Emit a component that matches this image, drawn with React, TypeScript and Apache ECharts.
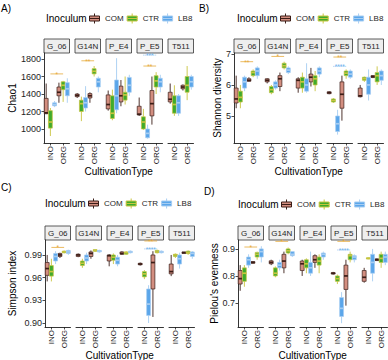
import React, { useEffect, useRef } from 'react';
import * as echarts from 'echarts';

const facets = ['G_06', 'G14N', 'P_E4', 'P_E5', 'T511'];
const cultivation = ['INO', 'ORG'];
const inocula = ['COM', 'CTR', 'LB8'];

// [min, q1, median, q3, max] for each facet: [INO, ORG]
const chao1COM = [
  [[1170, 1175, 1185, 1350, 1520], [1300, 1380, 1420, 1480, 1530]],
  [[1355, 1370, 1385, 1400, 1410], [1300, 1355, 1380, 1405, 1420]],
  [[1210, 1230, 1280, 1390, 1440], [1260, 1310, 1380, 1490, 1560]],
  [[1150, 1160, 1170, 1260, 1360], [1050, 1150, 1290, 1440, 1600]],
  [[1290, 1310, 1340, 1420, 1520], [1440, 1460, 1480, 1500, 1510]],
];
const chao1CTR = [
  [[920, 1010, 1080, 1210, 1240], [1310, 1450, 1500, 1540, 1550]],
  [[1090, 1200, 1290, 1330, 1370], [1600, 1630, 1660, 1690, 1720]],
  [[1100, 1120, 1180, 1380, 1450], [1280, 1330, 1390, 1420, 1600]],
  [[990, 1000, 1080, 1140, 1230], [1400, 1480, 1550, 1610, 1650]],
  [[1150, 1180, 1280, 1380, 1500], [1330, 1420, 1500, 1600, 1720]],
];
const chao1LB8 = [
  [[1250, 1265, 1280, 1300, 1320], [1300, 1380, 1460, 1530, 1580]],
  [[1200, 1240, 1300, 1360, 1490], [1420, 1480, 1540, 1580, 1600]],
  [[1180, 1220, 1380, 1560, 1810], [1380, 1420, 1500, 1590, 1620]],
  [[890, 900, 950, 1000, 1050], [1420, 1480, 1540, 1580, 1620]],
  [[1150, 1180, 1300, 1380, 1400], [1450, 1480, 1540, 1600, 1620]],
];
// [facet index, y, label, inoculum]
const chao1Sig = [[0, 1630, '*', 'CTR'], [1, 1780, '**', 'CTR'], [3, 1720, '**', 'CTR'], [3, 1845, '***', 'LB8']];
const chao1Ticks = [1000, 1200, 1400, 1600, 1800];

const shannonCOM = [
  [[5.25, 5.42, 5.55, 5.9, 6.3], [6.1, 6.12, 6.15, 6.2, 6.25]],
  [[6.05, 6.1, 6.15, 6.2, 6.22], [5.8, 5.95, 6.2, 6.3, 6.4]],
  [[5.75, 5.9, 6.15, 6.2, 6.25], [5.95, 6.1, 6.25, 6.35, 6.55]],
  [[5.7, 5.72, 5.75, 5.78, 5.8], [4.85, 5.25, 5.7, 6.1, 6.3]],
  [[5.6, 5.62, 5.65, 5.9, 6.0], [6.22, 6.24, 6.27, 6.3, 6.32]],
];
const shannonCTR = [
  [[5.25, 5.45, 5.6, 5.8, 6.0], [6.25, 6.3, 6.4, 6.45, 6.5]],
  [[5.7, 5.75, 5.85, 5.95, 6.0], [6.5, 6.55, 6.62, 6.7, 6.75]],
  [[5.75, 5.9, 6.1, 6.25, 6.4], [5.8, 6.0, 6.2, 6.3, 6.45]],
  [[5.42, 5.45, 5.5, 5.55, 5.58], [6.2, 6.3, 6.38, 6.45, 6.5]],
  [[6.1, 6.15, 6.2, 6.25, 6.27], [6.0, 6.1, 6.3, 6.4, 6.6]],
];
const shannonLB8 = [
  [[5.8, 5.9, 6.1, 6.25, 6.3], [6.2, 6.3, 6.45, 6.55, 6.6]],
  [[5.85, 5.9, 6.0, 6.1, 6.15], [6.35, 6.4, 6.48, 6.55, 6.6]],
  [[5.75, 5.8, 6.0, 6.2, 6.7], [6.25, 6.35, 6.45, 6.55, 6.6]],
  [[4.4, 4.5, 4.75, 5.0, 5.2], [6.2, 6.25, 6.35, 6.45, 6.5]],
  [[5.5, 5.7, 6.0, 6.25, 6.5], [6.0, 6.15, 6.3, 6.45, 6.5]],
];
const shannonSig = [[0, 6.75, '**', 'CTR'], [1, 6.92, '*', 'CTR'], [3, 6.9, '**', 'CTR'], [3, 6.6, '****', 'LB8']];
const shannonTicks = [5, 6, 7];

const simpsonCOM = [
  [[0.955, 0.963, 0.972, 0.98, 0.99], [0.986, 0.988, 0.99, 0.992, 0.993]],
  [[0.987, 0.988, 0.99, 0.991, 0.992], [0.985, 0.988, 0.992, 0.994, 0.996]],
  [[0.975, 0.982, 0.989, 0.99, 0.991], [0.99, 0.991, 0.992, 0.994, 0.995]],
  [[0.976, 0.977, 0.978, 0.979, 0.98], [0.908, 0.945, 0.98, 0.99, 0.995]],
  [[0.962, 0.965, 0.968, 0.978, 0.99], [0.992, 0.992, 0.993, 0.994, 0.994]],
];
const simpsonCTR = [
  [[0.955, 0.962, 0.968, 0.976, 0.985], [0.992, 0.993, 0.994, 0.995, 0.996]],
  [[0.973, 0.976, 0.979, 0.982, 0.985], [0.994, 0.995, 0.996, 0.997, 0.997]],
  [[0.978, 0.983, 0.987, 0.99, 0.992], [0.99, 0.991, 0.993, 0.994, 0.995]],
  [[0.958, 0.961, 0.965, 0.968, 0.97], [0.992, 0.993, 0.994, 0.996, 0.997]],
  [[0.986, 0.988, 0.99, 0.991, 0.992], [0.99, 0.992, 0.993, 0.995, 0.996]],
];
const simpsonLB8 = [
  [[0.978, 0.982, 0.988, 0.992, 0.995], [0.99, 0.992, 0.994, 0.996, 0.997]],
  [[0.978, 0.982, 0.986, 0.99, 0.993], [0.993, 0.994, 0.995, 0.996, 0.997]],
  [[0.975, 0.978, 0.983, 0.987, 0.99], [0.992, 0.993, 0.994, 0.995, 0.996]],
  [[0.9, 0.91, 0.925, 0.945, 0.95], [0.992, 0.993, 0.994, 0.995, 0.996]],
  [[0.972, 0.978, 0.985, 0.99, 0.993], [0.985, 0.988, 0.992, 0.994, 0.995]],
];
const simpsonSig = [[0, 1.0, '*', 'CTR'], [3, 1.0085, '**', 'CTR'], [3, 0.998, '****', 'LB8']];
const simpsonTicks = [0.9, 0.93, 0.96, 0.99];

const pielouCOM = [
  [[0.745, 0.77, 0.79, 0.82, 0.84], [0.845, 0.847, 0.85, 0.853, 0.855]],
  [[0.84, 0.845, 0.85, 0.856, 0.86], [0.81, 0.83, 0.855, 0.88, 0.89]],
  [[0.8, 0.82, 0.845, 0.855, 0.86], [0.83, 0.85, 0.86, 0.875, 0.88]],
  [[0.805, 0.807, 0.81, 0.812, 0.815], [0.69, 0.75, 0.8, 0.84, 0.86]],
  [[0.775, 0.78, 0.795, 0.82, 0.83], [0.855, 0.857, 0.86, 0.863, 0.865]],
];
const pielouCTR = [
  [[0.76, 0.78, 0.81, 0.83, 0.84], [0.86, 0.87, 0.88, 0.887, 0.89]],
  [[0.795, 0.8, 0.81, 0.83, 0.835], [0.88, 0.885, 0.893, 0.9, 0.905]],
  [[0.81, 0.83, 0.845, 0.86, 0.865], [0.81, 0.84, 0.855, 0.87, 0.88]],
  [[0.77, 0.78, 0.79, 0.8, 0.805], [0.85, 0.86, 0.875, 0.88, 0.89]],
  [[0.862, 0.863, 0.865, 0.867, 0.868], [0.83, 0.85, 0.865, 0.88, 0.89]],
];
const pielouLB8 = [
  [[0.83, 0.84, 0.86, 0.87, 0.88], [0.85, 0.87, 0.89, 0.9, 0.91]],
  [[0.82, 0.83, 0.84, 0.85, 0.86], [0.87, 0.875, 0.88, 0.89, 0.89]],
  [[0.8, 0.81, 0.83, 0.85, 0.89], [0.86, 0.87, 0.88, 0.885, 0.89]],
  [[0.625, 0.65, 0.68, 0.72, 0.74], [0.85, 0.86, 0.87, 0.875, 0.88]],
  [[0.78, 0.81, 0.85, 0.88, 0.9], [0.84, 0.85, 0.87, 0.88, 0.89]],
];
const pielouSig = [[0, 0.907, '*', 'CTR'], [1, 0.928, '*', 'CTR'], [3, 0.928, '*', 'CTR'], [3, 0.896, '****', 'LB8']];
const pielouTicks = [0.7, 0.8, 0.9];

const FONT = 'Liberation Sans, Arial, Helvetica, sans-serif';
const FILL: Record<string, string> = { COM: '#d38e80', CTR: '#3fab2c', LB8: '#5ba6ea' };
const BORDER: Record<string, string> = { COM: '#3b1d17', CTR: '#c8c43e', LB8: '#a6cdf2' };
const SIG_COLOR: Record<string, string> = { CTR: '#e6a93a', LB8: '#6cb0ec' };
const FW = 25.5;
const STEP = 31;
const BOX_STEP = 4.2;
const BOX_W = 3.9;
const INK = '#1e1e1e';
const BOX_ICON = 'path://M5,0L5,2.5M0,2.5L10,2.5L10,7.5L0,7.5ZM5,7.5L5,10M0,5L10,5';

const panels = [
  { label: 'A)', yTitle: 'Chao1', data: [chao1COM, chao1CTR, chao1LB8], sig: chao1Sig, ticks: chao1Ticks, fmt: (v: number) => String(v),
    ox: 0, oy: 0, axisX: 44, stripTop: 39, gridTop: 53, gridBottom: 143, ymin: 840, ymax: 1869, legendY: 18, legendX: 89, lx: 1, ly: 8, titleX: 12, xTitleY: 171 },
  { label: 'B)', yTitle: 'Shannon diversity', data: [shannonCOM, shannonCTR, shannonLB8], sig: shannonSig, ticks: shannonTicks, fmt: (v: number) => String(v),
    ox: 194, oy: 0, axisX: 40, stripTop: 39, gridTop: 53, gridBottom: 143, ymin: 4.13, ymax: 7.03, legendY: 18, legendX: 86, lx: 5, ly: 8, titleX: 23, xTitleY: 171 },
  { label: 'C)', yTitle: 'Simpson index', data: [simpsonCOM, simpsonCTR, simpsonLB8], sig: simpsonSig, ticks: simpsonTicks, fmt: (v: number) => v.toFixed(2),
    ox: 0, oy: 180, axisX: 45, stripTop: 46, gridTop: 60, gridBottom: 147, ymin: 0.8947, ymax: 1.0098, legendY: 23, legendX: 88, lx: 1, ly: 7, titleX: 12, xTitleY: 175 },
  { label: 'D)', yTitle: "Pielou's evenness", data: [pielouCOM, pielouCTR, pielouLB8], sig: pielouSig, ticks: pielouTicks, fmt: (v: number) => v.toFixed(1),
    ox: 194, oy: 180, axisX: 44, stripTop: 46, gridTop: 60, gridBottom: 147, ymin: 0.611, ymax: 0.933, legendY: 24, legendX: 87, lx: 10, ly: 11, titleX: 20, xTitleY: 175 },
];

function boxRender(ii: number, inoc: string) {
  return (params: any, api: any) => {
    const cat = api.value(0);
    const pMin = api.coord([cat, api.value(1)]);
    const pQ1 = api.coord([cat, api.value(2)]);
    const pMd = api.coord([cat, api.value(3)]);
    const pQ3 = api.coord([cat, api.value(4)]);
    const pMax = api.coord([cat, api.value(5)]);
    const x = pMd[0] + (ii - 1) * BOX_STEP;
    const stroke = BORDER[inoc];
    const h = Math.max(pQ1[1] - pQ3[1], 0.8);
    return {
      type: 'group',
      children: [
        { type: 'line', shape: { x1: x, y1: pMax[1], x2: x, y2: pQ3[1] }, style: { stroke, lineWidth: 0.9 } },
        { type: 'line', shape: { x1: x, y1: pQ1[1], x2: x, y2: pMin[1] }, style: { stroke, lineWidth: 0.9 } },
        { type: 'rect', shape: { x: x - BOX_W / 2, y: pQ3[1], width: BOX_W, height: h }, style: { fill: FILL[inoc], stroke, lineWidth: 0.7 } },
        { type: 'line', shape: { x1: x - BOX_W / 2, y1: pMd[1], x2: x + BOX_W / 2, y2: pMd[1] }, style: { stroke, lineWidth: 1.7 } },
      ],
    };
  };
}

function sigRender(label: string, inoc: string) {
  return (params: any, api: any) => {
    const y = api.value(2);
    const a = api.coord([api.value(0), y]);
    const b = api.coord([api.value(1), y]);
    const color = SIG_COLOR[inoc];
    return {
      type: 'group',
      children: [
        { type: 'line', shape: { x1: a[0], y1: a[1], x2: b[0], y2: b[1] },
          style: { stroke: color, lineWidth: 0.8, lineDash: inoc === 'LB8' ? [1, 1] : null } },
        { type: 'text', x: (a[0] + b[0]) / 2, y: a[1] + 0.5,
          style: { text: label, fill: color, fontSize: 6.5, fontFamily: FONT, align: 'center', verticalAlign: 'middle' } },
      ],
    };
  };
}

function buildOption() {
  const grid: any[] = [];
  const xAxis: any[] = [];
  const yAxis: any[] = [];
  const series: any[] = [];
  const graphic: any[] = [];
  const legend: any[] = [];

  panels.forEach((p) => {
    facets.forEach((f, fi) => {
      const gi = grid.length;
      const left = p.ox + p.axisX + fi * STEP;
      grid.push({ left, top: p.oy + p.gridTop, width: FW, height: p.gridBottom - p.gridTop });
      xAxis.push({
        type: 'category', gridIndex: gi, data: cultivation, boundaryGap: true,
        axisLine: { show: true, lineStyle: { color: INK, width: 0.9 } },
        axisTick: { show: true, alignWithLabel: true, length: 2.5, lineStyle: { color: INK, width: 0.8 } },
        axisLabel: { rotate: 90, fontSize: 8, color: INK, margin: 3, fontFamily: FONT, interval: 0 },
        splitLine: { show: false },
      });
      yAxis.push({
        type: 'value', gridIndex: gi, min: p.ymin, max: p.ymax, show: fi === 0,
        axisLine: { show: true, lineStyle: { color: INK, width: 0.9 } },
        axisTick: { show: true, length: 2.5, customValues: p.ticks, lineStyle: { color: INK, width: 0.8 } },
        axisLabel: { customValues: p.ticks, formatter: p.fmt, fontSize: 9, color: INK, margin: 3, fontFamily: FONT },
        splitLine: { show: false },
      });
      inocula.forEach((inoc, ii) => {
        const vals = p.data[ii][fi];
        series.push({
          type: 'custom', name: inoc, xAxisIndex: gi, yAxisIndex: gi, silent: true,
          itemStyle: { color: FILL[inoc], borderColor: BORDER[inoc] },
          data: vals.map((v, ci) => [ci, ...v]),
          encode: { x: 0, y: [1, 2, 3, 4, 5] },
          renderItem: boxRender(ii, inoc),
        });
      });
      p.sig.filter((s) => s[0] === fi).forEach((s) => {
        series.push({
          type: 'custom', xAxisIndex: gi, yAxisIndex: gi, silent: true,
          data: [[0, 1, s[1]]],
          encode: { x: [0, 1], y: 2 },
          renderItem: sigRender(s[2] as string, s[3] as string),
        });
      });
      graphic.push({
        type: 'rect', shape: { x: left, y: p.oy + p.stripTop, width: FW, height: p.gridTop - p.stripTop },
        style: { fill: '#eeeeee', stroke: '#333333', lineWidth: 0.8 },
      });
      graphic.push({
        type: 'text', x: left + FW / 2, y: p.oy + (p.stripTop + p.gridTop) / 2 + 0.5,
        style: { text: f, fontSize: 8, fill: INK, fontFamily: FONT, align: 'center', verticalAlign: 'middle' },
      });
    });
    const plotW = 4 * STEP + FW;
    graphic.push({
      type: 'text', x: p.ox + p.lx, y: p.oy + p.ly,
      style: { text: p.label, fontSize: 10, fill: '#000', fontFamily: FONT, align: 'left', verticalAlign: 'middle' },
    });
    graphic.push({
      type: 'text', x: p.ox + p.legendX - 43, y: p.oy + p.legendY,
      style: { text: 'Inoculum', fontSize: 10, fill: '#000', fontFamily: FONT, align: 'left', verticalAlign: 'middle' },
    });
    graphic.push({
      type: 'text', x: p.ox + p.titleX, y: p.oy + (p.gridTop + p.gridBottom) / 2, rotation: Math.PI / 2,
      style: { text: p.yTitle, fontSize: 10, fill: '#000', fontFamily: FONT, align: 'center', verticalAlign: 'middle' },
    });
    graphic.push({
      type: 'text', x: p.ox + p.axisX + plotW / 2, y: p.oy + p.xTitleY,
      style: { text: 'CultivationType', fontSize: 10, fill: '#000', fontFamily: FONT, align: 'center', verticalAlign: 'middle' },
    });
    legend.push({
      left: p.ox + p.legendX, top: p.oy + p.legendY - 5, width: 140, orient: 'horizontal', padding: 0,
      itemWidth: 11, itemHeight: 10, itemGap: 3, selectedMode: false,
      textStyle: { fontSize: 8, color: INK, fontFamily: FONT },
      data: inocula.map((n) => ({
        name: n, icon: BOX_ICON,
        itemStyle: { color: FILL[n], borderColor: BORDER[n], borderWidth: 1 },
      })),
    });
  });

  return { animation: false, backgroundColor: '#ffffff', grid, xAxis, yAxis, series, graphic, legend };
}

export default function App() {
  const ref = useRef<HTMLDivElement>(null);
  useEffect(() => {
    const chart = echarts.init(ref.current as HTMLDivElement, null, { renderer: 'svg' });
    chart.setOption(buildOption() as any);
    return () => chart.dispose();
  }, []);
  return <div ref={ref} style={{ position: 'fixed', left: 0, top: 0, width: 388, height: 360, background: '#fff' }} />;
}
